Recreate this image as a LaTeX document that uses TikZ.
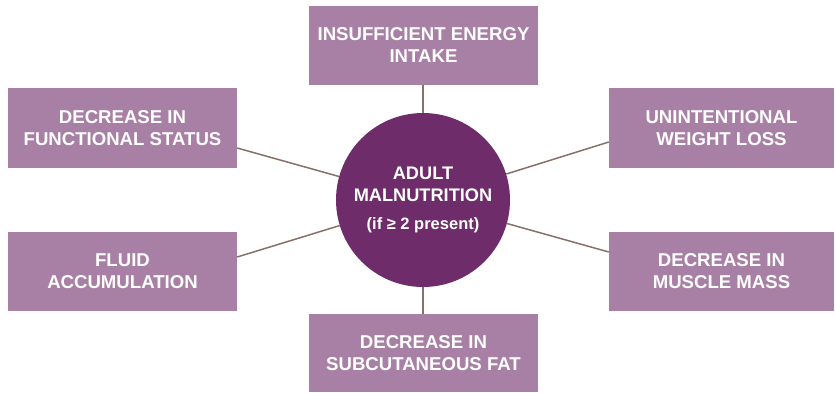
\documentclass[tikz,border=0pt]{standalone}
\usepackage{fontspec}
\setmainfont{Liberation Sans}
\definecolor{boxfill}{HTML}{A880A5}
\definecolor{circfill}{HTML}{6E2C6A}
\definecolor{linkcol}{HTML}{857168}
\begin{document}
\begin{tikzpicture}[x=1pt,y=-1pt,
  factor/.style={rectangle, fill=boxfill, inner sep=0pt, minimum width=229pt, minimum height=80pt,
    text=white, align=center, font=\fontsize{18.6}{22}\selectfont\bfseries},
  hub/.style={circle, fill=circfill, inner sep=0pt, minimum size=174pt, text=white, align=center,
    font=\fontsize{18.2}{21.6}\selectfont\bfseries},
  link/.style={draw=linkcol, line width=1.5pt}]
\useasboundingbox (0,0) rectangle (835,392);
\node[hub] (c) at (423,200) {ADULT\\MALNUTRITION\\[6.5pt]{\fontsize{16.5}{18}\selectfont (if ≥ 2 present)}};
\node[factor, minimum height=79pt] (top) at (423.5,45.5) {INSUFFICIENT ENERGY\\INTAKE};
\node[factor] (lu) at (122.5,128) {DECREASE IN\\FUNCTIONAL STATUS};
\node[factor, minimum width=225pt] (ru) at (721.5,128) {UNINTENTIONAL\\WEIGHT LOSS};
\node[factor, minimum height=79pt] (ll) at (122.5,271.5) {FLUID\\ACCUMULATION};
\node[factor, minimum width=225pt, minimum height=79pt] (rl) at (721.5,271.5) {DECREASE IN\\MUSCLE MASS};
\node[factor, minimum height=78pt] (bot) at (423.5,353) {DECREASE IN\\SUBCUTANEOUS FAT};
\coordinate (topend) at ([xshift=-0.5pt]top.south);
\coordinate (botend) at ([xshift=-0.5pt]bot.north);
\coordinate (luend) at ([yshift=-20pt]lu.east);
\coordinate (ruend) at ([yshift=-14pt]ru.west);
\coordinate (llend) at ([yshift=14.5pt]ll.east);
\coordinate (rlend) at ([yshift=19.5pt]rl.west);
\draw[link] (c) -- (topend);
\draw[link] (c) -- (botend);
\draw[link] (c) -- (luend);
\draw[link] (c) -- (ruend);
\draw[link] (c) -- (llend);
\draw[link] (c) -- (rlend);
\end{tikzpicture}
\end{document}
